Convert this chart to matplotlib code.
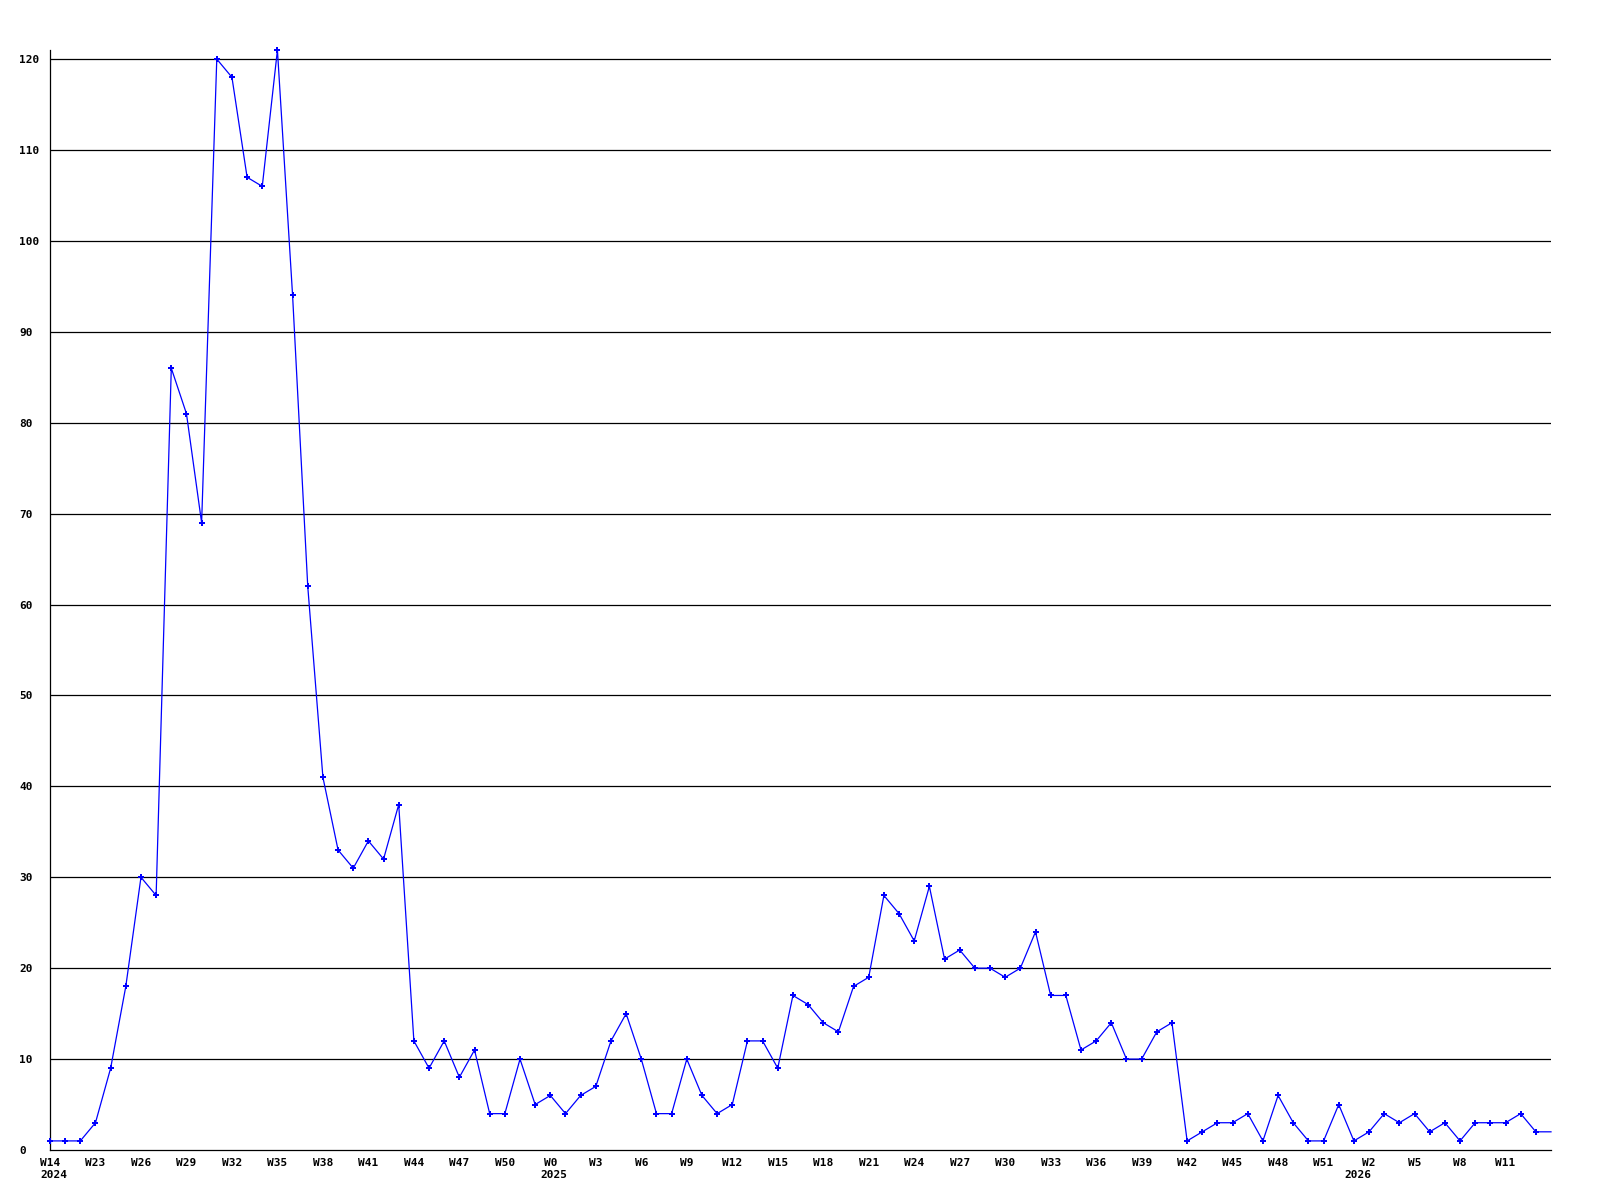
import matplotlib
matplotlib.use("Agg")
from matplotlib import pyplot as plt
from matplotlib import transforms

# weekly counts, one per point (index 0 = W14 2024)
values = [1, 1, 1, 3, 9, 18, 30, 28, 86, 81,
          69, 120, 118, 107, 106, 121, 94, 62, 41, 33,
          31, 34, 32, 38, 12, 9, 12, 8, 11, 4,
          4, 10, 5, 6, 4, 6, 7, 12, 15, 10,
          4, 4, 10, 6, 4, 5, 12, 12, 9, 17,
          16, 14, 13, 18, 19, 28, 26, 23, 29, 21,
          22, 20, 20, 19, 20, 24, 17, 17, 11, 12,
          14, 10, 10, 13, 14, 1, 2, 3, 3, 4,
          1, 6, 3, 1, 1, 5, 1, 2, 4, 3,
          4, 2, 3, 1, 3, 3, 3, 4, 2, 2]

week_labels = ['W14', 'W23', 'W26', 'W29', 'W32', 'W35', 'W38', 'W41', 'W44', 'W47',
               'W50', 'W0', 'W3', 'W6', 'W9', 'W12', 'W15', 'W18', 'W21', 'W24',
               'W27', 'W30', 'W33', 'W36', 'W39', 'W42', 'W45', 'W48', 'W51', 'W2',
               'W5', 'W8', 'W11']
year_pos = [0, 33, 86]
year_labels = ['2024', '2025', '2026']
y_ticks = [0, 10, 20, 30, 40, 50, 60, 70, 80, 90, 100, 110, 120]

font = {'family': 'DejaVu Sans Mono', 'weight': 'bold', 'size': 8}

fig = plt.figure(figsize=(16, 12), dpi=100)
ax = fig.add_axes([50 / 1600, 1 - 1150 / 1200, 1501 / 1600, 1100 / 1200])

x = list(range(len(values)))
# last value runs to the edge without a marker
ax.plot(x, values, color='#0000ff', linewidth=0.9, marker='P', markersize=4,
        markeredgewidth=0, markevery=list(range(len(values) - 1)),
        clip_on=False, zorder=3)

ax.set_xlim(0, len(values) - 1)
ax.set_ylim(0, 121)

for v in y_ticks[1:]:
    ax.axhline(v, color='black', linewidth=0.9, zorder=1)

for s in ['top', 'right']:
    ax.spines[s].set_visible(False)
for s in ['left', 'bottom']:
    ax.spines[s].set_linewidth(0.9)

ax.set_yticks(y_ticks)
ax.set_yticklabels([str(v) for v in y_ticks], fontdict=font, ha='left')
ax.tick_params(axis='y', length=0, pad=22)

ax.set_xticks(list(range(0, 3 * len(week_labels), 3)))
ax.set_xticklabels(week_labels, fontdict=font)
ax.tick_params(axis='x', length=0, pad=6)

off = transforms.offset_copy(ax.get_xaxis_transform(), fig=fig, x=-10, y=-20, units='dots')
for p, yl in zip(year_pos, year_labels):
    ax.text(p, 0, yl, transform=off, ha='left', va='top', **font)

fig.savefig('out.png', dpi=100)
